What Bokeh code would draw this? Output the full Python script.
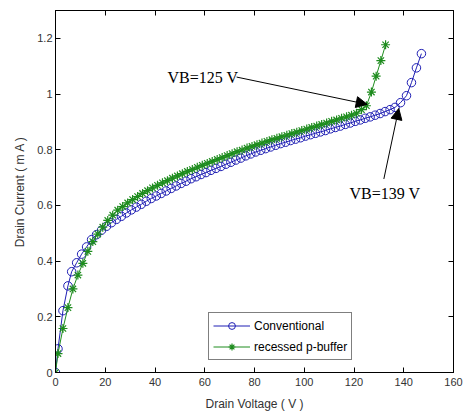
from bokeh.plotting import figure
from bokeh.models import Range1d, LinearAxis, FixedTicker, Arrow, NormalHead, Label
from bokeh.embed import file_html
from bokeh.resources import INLINE

# ---- data ----
conv_v = [0, 1, 3, 5, 6.5, 8.5, 10.5, 12.5, 14.5, 16.5, 18.5, 20.5, 22.5, 24.5, 26.5,
          28.5, 30.5, 32.5, 34.5, 36.5, 38.5, 40.5, 42.5, 44.5, 46.5, 48.5, 50.5, 52.5,
          54.5, 56.5, 58.5, 60.5, 62.5, 64.5, 66.5, 68.5, 70.5, 72.5, 74.5, 76.5, 78.5,
          80.5, 82.5, 84.5, 86.5, 88.5, 90.5, 92.5, 94.5, 96.5, 98.5, 100.5, 102.5, 104.5,
          106.5, 108.5, 110.5, 112.5, 114.5, 116.5, 118.5, 120.5, 122.5, 124.5, 126.5,
          128.5, 130.5, 132.5, 134.5, 136.5, 138.7, 141.1, 143.1, 145.1, 147.1]
conv_i = [0.000, 0.085, 0.222, 0.311, 0.362, 0.394, 0.425, 0.451, 0.477, 0.495, 0.511,
          0.525, 0.538, 0.550, 0.561, 0.573, 0.584, 0.594, 0.604, 0.615, 0.625, 0.634,
          0.643, 0.652, 0.661, 0.670, 0.679, 0.687, 0.696, 0.703, 0.711, 0.718, 0.726,
          0.733, 0.740, 0.748, 0.755, 0.763, 0.770, 0.778, 0.785, 0.792, 0.798, 0.804,
          0.810, 0.816, 0.822, 0.827, 0.833, 0.838, 0.843, 0.849, 0.854, 0.859, 0.864,
          0.869, 0.875, 0.880, 0.885, 0.891, 0.896, 0.902, 0.907, 0.913, 0.918, 0.924,
          0.930, 0.937, 0.944, 0.952, 0.969, 0.994, 1.041, 1.094, 1.145]

rec_v = [0, 1, 3, 5, 7, 9, 11, 13, 15, 17, 19, 21, 23, 25, 27, 29, 31, 33, 35, 37, 39,
         41, 43, 45, 47, 49, 51, 53, 55, 57, 59, 61, 63, 65, 67, 69, 71, 73, 75, 77, 79,
         81, 83, 85, 87, 89, 91, 93, 95, 97, 99, 101, 103, 105, 107, 109, 111, 113, 115,
         117, 119, 121, 123, 125, 127, 128.9, 130.8, 132.7]
rec_i = [0.000, 0.068, 0.158, 0.233, 0.300, 0.350, 0.392, 0.435, 0.470, 0.497, 0.522,
         0.546, 0.565, 0.583, 0.596, 0.609, 0.621, 0.632, 0.643, 0.653, 0.663, 0.672,
         0.681, 0.689, 0.698, 0.706, 0.714, 0.722, 0.729, 0.737, 0.744, 0.751, 0.758,
         0.765, 0.772, 0.779, 0.786, 0.793, 0.799, 0.806, 0.812, 0.818, 0.824, 0.830,
         0.836, 0.841, 0.847, 0.852, 0.858, 0.863, 0.869, 0.874, 0.880, 0.885, 0.891,
         0.896, 0.902, 0.907, 0.913, 0.918, 0.924, 0.931, 0.944, 0.958, 1.007, 1.064,
         1.120, 1.177]

series_names = ["Conventional", "recessed p-buffer"]
x_ticks = [0, 20, 40, 60, 80, 100, 120, 140, 160]
y_ticks = [0, 0.2, 0.4, 0.6, 0.8, 1.0, 1.2]
y_tick_labels = ["0", "0.2", "0.4", "0.6", "0.8", "1", "1.2"]

# annotations: text, text position, arrow start and tip (data units)
note_texts = ["VB=125 V", "VB=139 V"]
note_text_x = [45.0, 118.2]
note_text_y = [1.061, 0.644]
arrow_x0 = [72.8, 132.0]
arrow_y0 = [1.061, 0.695]
arrow_x1 = [125.3, 138.0]
arrow_y1 = [0.963, 0.948]

BLUE = "#1f1fb4"
GREEN = "#1e8c1e"
SANS = "Liberation Sans"
SERIF = "Liberation Serif"

p = figure(width=465, height=413, output_backend="svg", toolbar_location=None,
           x_range=Range1d(0, 160), y_range=Range1d(0, 1.3),
           min_border_left=55, min_border_right=12, min_border_top=10, min_border_bottom=40)
p.grid.visible = False
p.outline_line_color = "black"
p.background_fill_color = "white"
p.border_fill_color = "white"

p.line(conv_v, conv_i, line_color=BLUE, line_width=1, legend_label=series_names[0])
p.scatter(conv_v, conv_i, marker="circle", size=8.5, fill_color=None, line_color=BLUE,
          line_width=1, legend_label=series_names[0])
p.line(rec_v, rec_i, line_color=GREEN, line_width=1, legend_label=series_names[1])
p.scatter(rec_v, rec_i, marker="asterisk", size=9, line_color=GREEN, line_width=1.2,
          legend_label=series_names[1])

for ax in [p.xaxis[0], p.yaxis[0]]:
    ax.major_tick_in = 5
    ax.major_tick_out = 0
    ax.minor_tick_line_color = None
    ax.axis_line_color = "black"
    ax.major_tick_line_color = "black"
    ax.major_label_text_font = SANS
    ax.major_label_text_font_size = "11px"
    ax.major_label_text_color = "#333333"
    ax.axis_label_text_font = SANS
    ax.axis_label_text_font_size = "12px"
    ax.axis_label_text_font_style = "normal"
    ax.axis_label_text_color = "#333333"

p.xaxis.ticker = FixedTicker(ticks=x_ticks)
p.yaxis.ticker = FixedTicker(ticks=y_ticks)
p.yaxis.major_label_overrides = {t: l for t, l in zip(y_ticks, y_tick_labels)}
p.xaxis.axis_label = "Drain Voltage ( V )"
p.yaxis.axis_label = "Drain Current ( m A )"
p.xaxis.major_label_standoff = 5
p.xaxis.axis_label_standoff = 8
p.yaxis.major_label_standoff = 3
p.yaxis.axis_label_standoff = 7

top = LinearAxis(ticker=FixedTicker(ticks=x_ticks), major_tick_in=5, major_tick_out=0,
                 minor_tick_line_color=None, major_label_text_font_size="0px",
                 major_label_text_color=None, major_label_standoff=0,
                 axis_line_color="black")
right = LinearAxis(ticker=FixedTicker(ticks=y_ticks), major_tick_in=5, major_tick_out=0,
                   minor_tick_line_color=None, major_label_text_font_size="0px",
                   major_label_text_color=None, major_label_standoff=0,
                   axis_line_color="black")
p.add_layout(top, "above")
p.add_layout(right, "right")

for t, tx, ty, x0, y0, x1, y1 in zip(note_texts, note_text_x, note_text_y,
                                     arrow_x0, arrow_y0, arrow_x1, arrow_y1):
    p.add_layout(Label(x=tx, y=ty, text=t, text_font=SERIF, text_font_size="16px",
                       text_baseline="middle", text_align="left", text_color="black"))
    p.add_layout(Arrow(end=NormalHead(size=11, fill_color="black", line_color="black"),
                       x_start=x0, y_start=y0, x_end=x1, y_end=y1,
                       line_color="black", line_width=1))

lg = p.legend[0]
lg.location = (153, 12)
lg.border_line_color = "black"
lg.background_fill_color = "white"
lg.background_fill_alpha = 1
lg.label_text_font = SANS
lg.label_text_font_size = "12px"
lg.label_text_color = "black"
lg.glyph_width = 37
lg.glyph_height = 17
lg.label_standoff = 4
lg.padding = 4
lg.spacing = 4
lg.margin = 0
lg.label_height = 17

open("out.html", "w").write(file_html(p, INLINE))
